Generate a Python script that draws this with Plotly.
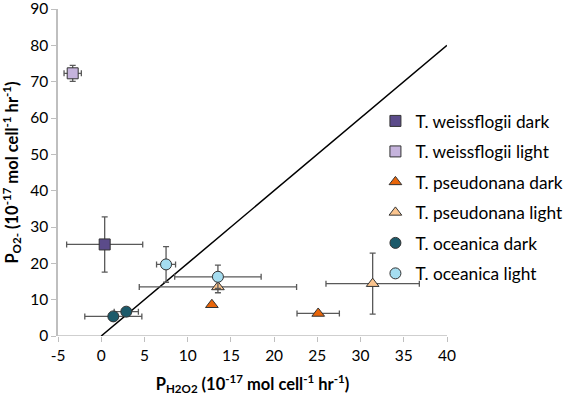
import plotly.graph_objects as go

# Series data (x = P_H2O2, y = P_O2-)
wd_x = [0.4];          wd_y = [25.2];        wd_xe = [4.4];        wd_ye = [7.6]
wl_x = [-3.3];         wl_y = [72.3];        wl_xe = [1.0];        wl_ye = [2.2]
pd_x = [12.8, 25.1];   pd_y = [8.6, 6.2];    pd_xe = [0.0, 2.45];  pd_ye = [0.0, 0.0]
pl_x = [13.5, 31.4];   pl_y = [13.5, 14.4];  pl_xe = [9.1, 5.4];   pl_ye = [1.6, 8.4]
od_x = [1.4, 2.9];     od_y = [5.4, 6.7];    od_xe = [3.3, 1.4];   od_ye = [0.0, 0.0]
ol_x = [7.5, 13.5];    ol_y = [19.7, 16.3];  ol_xe = [1.1, 5.0];   ol_ye = [4.9, 3.2]

line_x = [0, 40]
line_y = [0, 80]

x_ticks = [-5, 0, 5, 10, 15, 20, 25, 30, 35, 40]
y_ticks = [0, 10, 20, 30, 40, 50, 60, 70, 80, 90]

names = ["T. weissflogii dark", "T. weissflogii light", "T. pseudonana dark",
         "T. pseudonana light", "T. oceanica dark", "T. oceanica light"]

FONT = "Lato"
ERR = "#595959"

series = [
    (wd_x, wd_y, wd_xe, wd_ye, "square", "#5B4B8A", 11),
    (wl_x, wl_y, wl_xe, wl_ye, "square", "#C5B3DC", 11),
    (pd_x, pd_y, pd_xe, pd_ye, "triangle-up", "#E8650A", 11),
    (pl_x, pl_y, pl_xe, pl_ye, "triangle-up", "#FAC48E", 11),
    (od_x, od_y, od_xe, od_ye, "circle", "#1C5A6A", 11),
    (ol_x, ol_y, ol_xe, ol_ye, "circle", "#A5DDF0", 11),
]

fig = go.Figure()

fig.add_trace(go.Scatter(x=line_x, y=line_y, mode="lines",
                         line=dict(color="black", width=1.5),
                         showlegend=False, hoverinfo="skip"))

for i, (xs, ys, xe, ye, sym, col, sz) in enumerate(series):
    fig.add_trace(go.Scatter(
        x=xs, y=ys, mode="markers", name=names[i], legendgroup=f"g{i}",
        marker=dict(symbol=sym, color=col, size=sz,
                    line=dict(color="#333333", width=1)),
        error_x=dict(type="data", array=xe, visible=True, color=ERR,
                     thickness=1.3, width=3),
        error_y=dict(type="data", array=ye, visible=True, color=ERR,
                     thickness=1.3, width=3),
    ))

fig.update_layout(
    width=567, height=397,
    margin=dict(l=58, r=120, t=9, b=61, autoexpand=False),
    paper_bgcolor="white", plot_bgcolor="white",
    font=dict(family=FONT, size=15, color="black"),
    legend=dict(x=0.816, y=0.712, xanchor="left", yanchor="top",
                font=dict(family=FONT, size=17.3, color="black"),
                bgcolor="rgba(0,0,0,0)", tracegroupgap=5, itemwidth=30),
    showlegend=True,
)

fig.update_xaxes(
    range=[-5, 40], tickvals=x_ticks, ticktext=[str(v) for v in x_ticks],
    showgrid=False, zeroline=False, showline=False, automargin=False,
    ticks="outside", ticklen=5, tickcolor="#BFBFBF", ticklabeloverflow="allow",
    tickfont=dict(family=FONT, size=15.5),
    title=dict(text="<b>P<sub>H2O2</sub> (10<sup>-17</sup> mol cell<sup>-1</sup> hr<sup>-1</sup>)</b>",
               font=dict(family=FONT, size=16.5)),
)
fig.update_yaxes(
    range=[0, 90], tickvals=y_ticks, ticktext=[str(v) for v in y_ticks],
    showgrid=False, zeroline=False, showline=True, linecolor="#BFBFBF", linewidth=1.5,
    automargin=False, ticklabeloverflow="allow",
    ticks="outside", ticklen=5, tickcolor="#BFBFBF",
    tickfont=dict(family=FONT, size=15.5),
    title=dict(text="<b>P<sub>O2-</sub> (10<sup>-17</sup> mol cell<sup>-1</sup> hr<sup>-1</sup>)</b>",
               font=dict(family=FONT, size=16.5)),
)
# x-axis line at y = 0
fig.add_shape(type="line", xref="x", yref="y", x0=-5, x1=40, y0=0, y1=0,
              line=dict(color="#BFBFBF", width=1.5), layer="below")

fig.write_html("out.html", config={"displayModeBar": False},
               post_script="document.body.style.margin='0';")
